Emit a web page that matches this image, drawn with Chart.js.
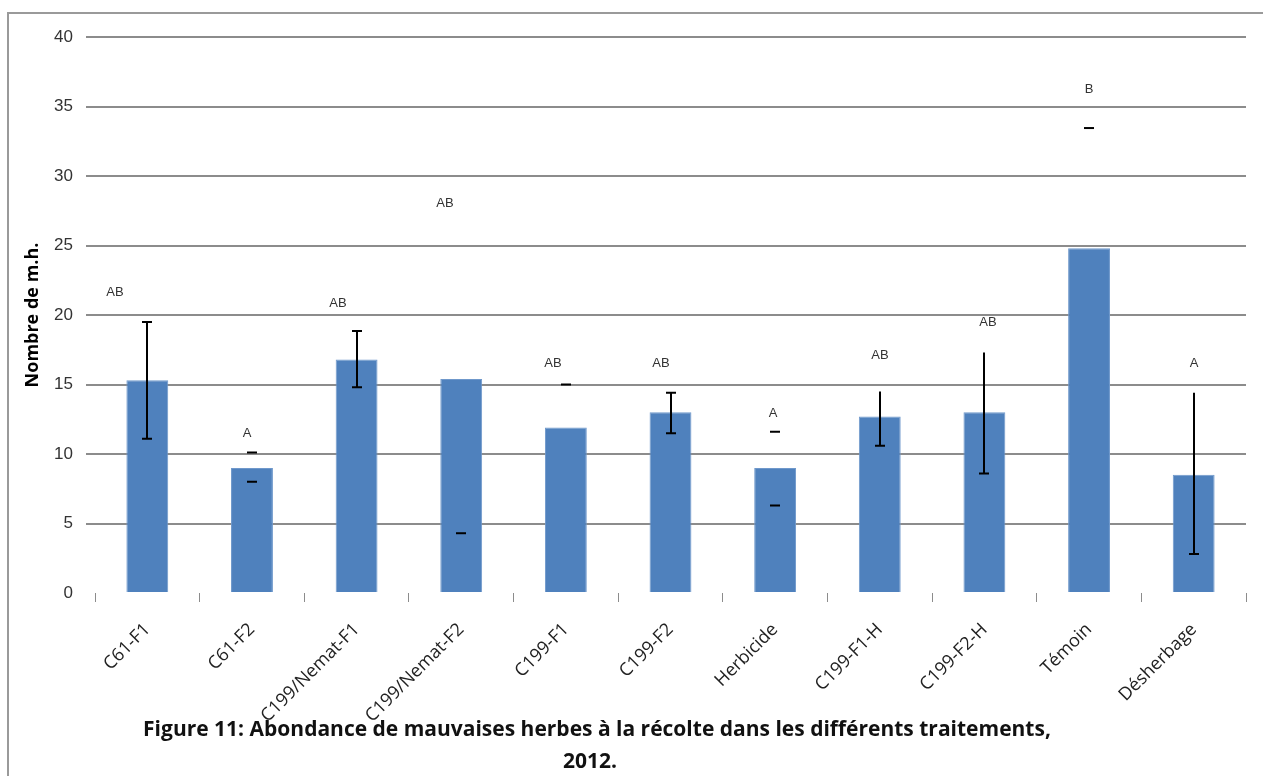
<!DOCTYPE html>
<html lang="fr">
<head>
<meta charset="utf-8">
<title>Abondance de mauvaises herbes</title>
<script src="https://cdn.jsdelivr.net/npm/chart.js@4.4.1/dist/chart.umd.min.js"></script>
<style>
  html, body { margin: 0; padding: 0; background: #fff; }
  #wrap { position: relative; width: 1263px; height: 776px; overflow: hidden; }
  #frame {
    position: absolute; left: 7px; top: 12px; right: -5px; bottom: -5px;
    border-left: 2px solid #9a9a9a; border-top: 2px solid #9a9a9a;
  }
  canvas { position: absolute; left: 0; top: 0; }
  .caption {
    position: absolute; left: 97px; width: 1000px; text-align: center;
    font-family: "Open Sans", "Liberation Sans", sans-serif; font-weight: bold;
    font-size: 21px; color: #111; line-height: 32px; white-space: nowrap;
  }
</style>
</head>
<body>
<div id="wrap">
  <div id="frame"></div>
  <canvas id="weedChart" width="1263" height="776"></canvas>
  <div class="caption" style="top:712px;">Figure 11: Abondance de mauvaises herbes à la récolte dans les différents traitements,</div>
  <div class="caption" style="top:744px; left:90px;">2012.</div>
</div>
<script>
// Treatments and mean weed counts
const treatments = ['C61-F1', 'C61-F2', 'C199/Nemat-F1', 'C199/Nemat-F2', 'C199-F1', 'C199-F2',
  'Herbicide', 'C199-F1-H', 'C199-F2-H', 'Témoin', 'Désherbage'];
const meanCounts = [15.3, 9.0, 16.8, 15.4, 11.9, 13.0, 9.0, 12.7, 13.0, 24.8, 8.5];

// Error bar ends (null where no end is drawn)
const errHigh = [19.5, 10.1, 18.85, null, 15.0, 14.4, 11.6, 14.5, 17.3, 33.45, 14.4];
const errLow = [11.1, 8.0, 14.8, 4.3, null, 11.5, 6.3, 10.6, 8.6, null, 2.8];
const errStem = [true, false, true, false, false, true, false, true, true, false, true];
const errTopCap = [true, true, true, false, true, true, true, false, false, true, false];

// Significance letters and the height they sit at
const groupLetters = ['AB', 'A', 'AB', 'AB', 'AB', 'AB', 'A', 'AB', 'AB', 'B', 'A'];
const letterLevel = [21.65, 11.5, 20.8, 28.05, 16.55, 16.55, 12.95, 17.1, 19.5, 36.25, 16.55];
const letterDx = [-32, -5, -19, -16, -13, -10, -2, 0, 4, 0, 0];

const yTicks = [0, 5, 10, 15, 20, 25, 30, 35, 40];

const errorBarsPlugin = {
  id: 'errorBars',
  afterDatasetsDraw(chart) {
    const ctx = chart.ctx;
    const y = chart.scales.y;
    const bars = chart.getDatasetMeta(0).data;
    ctx.save();
    ctx.strokeStyle = '#000';
    ctx.lineWidth = 2;
    bars.forEach((bar, i) => {
      const x = Math.round(bar.x);
      const hi = errHigh[i] == null ? null : y.getPixelForValue(errHigh[i]);
      const lo = errLow[i] == null ? null : y.getPixelForValue(errLow[i]);
      ctx.beginPath();
      if (errStem[i] && hi != null && lo != null) {
        ctx.moveTo(x, hi);
        ctx.lineTo(x, lo);
      }
      if (hi != null && errTopCap[i]) {
        ctx.moveTo(x - 5, hi);
        ctx.lineTo(x + 5, hi);
      }
      if (lo != null) {
        ctx.moveTo(x - 5, lo);
        ctx.lineTo(x + 5, lo);
      }
      ctx.stroke();

      // group letter
      ctx.fillStyle = '#333';
      ctx.font = '13px "Liberation Sans", Arial, sans-serif';
      ctx.textAlign = 'center';
      ctx.textBaseline = 'middle';
      ctx.fillText(groupLetters[i], x + letterDx[i], y.getPixelForValue(letterLevel[i]));
    });
    ctx.restore();
  }
};

const gridColor = (c) => (c.tick && c.tick.value === 0) ? 'rgba(0,0,0,0)' : '#8c8c8c';

new Chart(document.getElementById('weedChart'), {
  type: 'bar',
  data: {
    labels: treatments,
    datasets: [{
      data: meanCounts,
      backgroundColor: '#4f81bd',
      borderColor: '#6f98cb',
      borderWidth: 1,
      barPercentage: 0.4,
      categoryPercentage: 1.0
    }]
  },
  options: {
    responsive: false,
    animation: false,
    layout: { padding: { left: 0, right: 17, top: 37, bottom: 0 } },
    plugins: {
      legend: { display: false },
      tooltip: { enabled: false }
    },
    scales: {
      x: {
        grid: {
          drawOnChartArea: false,
          drawTicks: true,
          tickLength: 9,
          color: '#8c8c8c',
          lineWidth: 1
        },
        border: { display: false },
        ticks: {
          minRotation: 45,
          maxRotation: 45,
          padding: 17,
          color: '#222',
          font: { family: '"Open Sans", "Liberation Sans", sans-serif', size: 18 }
        },
        afterFit: (scale) => { scale.height = 183; }
      },
      y: {
        min: 0,
        max: 40,
        afterBuildTicks: (scale) => { scale.ticks = yTicks.map(v => ({ value: v })); },
        grid: {
          color: gridColor,
          tickColor: gridColor,
          lineWidth: 2,
          tickLength: 9
        },
        border: { display: false },
        ticks: {
          padding: 13,
          color: '#333',
          font: { family: '"Liberation Sans", Arial, sans-serif', size: 17 }
        },
        title: {
          display: true,
          text: 'Nombre de m.h.',
          color: '#000',
          padding: { top: 22, bottom: 0 },
          font: { family: '"Open Sans", "Liberation Sans", sans-serif', size: 18, weight: 'bold' }
        },
        afterFit: (scale) => { scale.width = 95; }
      }
    }
  },
  plugins: [errorBarsPlugin]
});
</script>
</body>
</html>
